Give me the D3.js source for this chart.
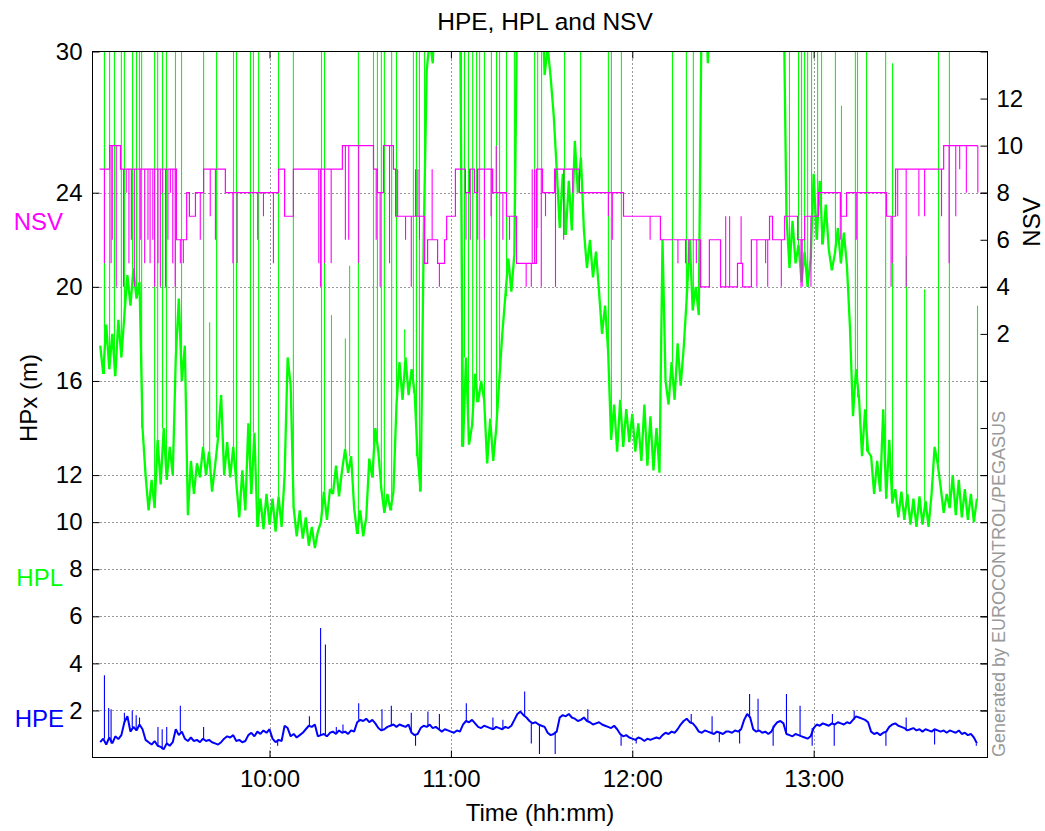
<!DOCTYPE html>
<html>
<head>
<meta charset="utf-8">
<script src="https://cdnjs.cloudflare.com/ajax/libs/d3/7.8.5/d3.min.js"></script>
<style>
  body { margin: 0; background: #fff; }
  svg text { font-family: "Liberation Sans", Arial, sans-serif; }
</style>
</head>
<body>
<svg id="chart" width="1045" height="831"></svg>
<script>
// time is in minutes after 09:00, one sample per minute starting at t0
var t0 = 4;

var hpl = [
  17.5,16.3,18.4,16.5,18.0,16.2,18.6,17.0,18.8,20.5,
  19.2,20.8,19.5,20.2,14.0,12.0,10.5,11.8,10.6,13.5,
  11.6,14.0,11.8,13.2,12.0,17.0,19.5,16.0,17.5,10.3,
  12.6,11.2,12.5,11.9,13.2,12.0,13.0,11.3,12.4,13.6,
  15.4,12.0,13.4,11.9,13.2,11.7,10.2,12.2,10.5,14.2,
  11.2,13.8,9.8,11.0,9.7,11.2,9.9,11.0,9.6,11.1,
  9.8,12.0,17.0,15.8,10.6,9.4,10.5,9.3,10.2,9.0,
  9.8,8.9,9.6,10.0,11.3,10.1,11.4,11.2,12.4,11.1,
  12.2,13.1,12.1,12.8,10.6,9.5,10.5,9.4,10.2,12.7,
  11.9,14.0,13.0,11.4,10.4,11.2,10.5,11.3,15.0,16.8,
  15.2,17.0,15.4,16.5,15.5,12.8,11.3,22.0,29.2,30.5,
  29.5,33,33,33,33,33,33,33,33,33,
  13.2,17.0,13.3,14.1,16.3,15.1,16.0,15.2,12.5,14.4,
  12.6,14.0,16.0,18.0,19.6,21.2,19.8,21.4,33,33,
  33,33,33,33,33,33,33,29.0,30.2,28.9,
  27.3,25.0,22.5,24.8,22.2,24.5,22.4,26.2,24.0,25.5,
  22.4,20.8,22.0,20.4,21.5,19.8,18.0,19.2,17.3,13.5,
  15.0,13.0,15.2,13.2,14.8,13.4,14.6,13.0,14.2,12.6,
  15.0,12.4,14.5,12.2,14.0,12.1,22.0,16.0,15.0,16.8,
  15.2,17.6,15.8,17.4,19.5,22.0,19.0,20.0,18.8,33,
  33,29.5,33,33,33,33,33,33,33,33,
  33,33,33,33,33,33,33,33,33,33,
  33,33,33,33,33,33,33,23.0,20.8,22.8,
  21.0,21.8,20.2,21.5,20.0,21.2,24.8,22.0,24.5,21.8,
  23.5,21.6,20.7,21.4,22.5,21.0,22.3,20.9,18.3,14.5,
  16.5,15.3,12.8,14.8,13.0,12.8,11.2,12.6,11.3,14.8,
  11.0,13.5,10.8,11.4,10.2,11.3,10.1,11.2,9.9,11.0,
  9.8,11.1,9.9,10.9,9.8,11.2,13.2,12.5,11.5,10.4,
  11.2,10.6,12.0,10.3,11.8,10.2,11.4,10.1,11.2,10.0,
  11.0
];

var hpe = [
  0.65,0.8,0.55,0.85,0.6,0.9,0.78,0.95,1.5,1.75,
  1.1,1.3,1.15,1.4,1.2,0.75,0.65,0.55,0.7,0.5,
  0.45,0.35,0.6,0.5,0.65,1.2,0.95,1.1,0.8,0.7,
  0.85,0.7,0.75,0.65,0.8,0.7,0.75,0.65,0.6,0.55,
  0.65,0.8,0.9,0.85,0.95,0.7,0.75,0.65,0.7,0.95,
  1.05,0.9,1.1,1.0,1.15,1.05,1.2,0.8,0.65,0.75,
  0.7,1.35,1.25,0.9,1.0,0.85,0.95,1.05,1.2,1.35,
  1.3,1.4,0.9,0.95,1.0,0.9,1.05,1.1,1.0,1.15,
  1.05,1.1,1.0,1.15,1.1,1.5,1.6,1.55,1.65,1.5,
  1.6,1.45,1.25,1.15,1.2,1.3,1.35,1.4,1.3,1.4,
  1.35,1.3,1.4,1.05,0.95,1.0,1.25,1.35,1.3,1.4,
  1.25,1.3,1.2,1.1,1.2,1.15,1.1,1.05,1.15,1.1,
  1.4,1.55,1.5,1.6,1.45,1.3,1.25,1.35,1.3,1.25,
  1.2,1.3,1.25,1.2,1.3,1.25,1.35,1.6,1.85,1.95,
  1.8,1.7,1.55,1.45,1.5,1.4,1.35,1.3,1.05,0.95,
  1.0,1.1,1.7,1.8,1.75,1.85,1.7,1.65,1.55,1.6,
  1.7,1.55,1.5,1.4,1.45,1.5,1.4,1.35,1.3,1.25,
  1.35,1.2,1.0,0.9,0.95,0.85,0.8,0.75,0.85,0.8,
  0.7,0.8,0.75,0.8,0.85,0.8,0.95,1.05,1.0,1.1,
  1.05,1.2,1.4,1.55,1.65,1.5,1.45,1.3,1.1,1.05,
  1.15,1.1,1.05,1.0,1.1,1.05,1.0,1.1,1.1,1.05,
  1.15,1.1,1.2,1.6,1.85,1.7,1.2,1.1,1.15,1.05,
  1.1,1.0,1.1,1.35,1.5,1.55,1.45,1.0,0.95,0.9,
  1.0,0.95,0.9,0.85,0.8,0.9,1.25,1.4,1.35,1.45,
  1.4,1.35,1.45,1.4,1.5,1.45,1.4,1.5,1.45,1.6,
  1.75,1.7,1.65,1.6,1.5,1.1,1.0,1.05,0.95,1.05,
  1.1,1.3,1.4,1.45,1.35,1.3,1.25,1.15,1.2,1.25,
  1.15,1.2,1.1,1.2,1.15,1.1,1.2,1.15,1.1,1.15,
  1.05,1.15,1.1,1.05,1.15,1.0,1.05,0.95,1.0,0.85,
  0.6
];

// short HPL excursions (35 = off the top of the axis)
var hplSpikeT = [5.4,7.1,8.7,11.0,12.0,14.7,16.0,17.0,17.7,22.0,23.0,24.6,25.9,28.9,30.9,38.2,40.2,42.5,48.1,49.1,
  53.7,54.7,56.4,63.0,67.9,77.2,78.2,80.5,85.1,86.5,89.4,94.4,95.7,97.0,98.0,100.4,102.0,104.7,107.6,108.6,
  109.6,111.3,123.5,124.5,125.8,127.2,128.5,129.5,131.1,133.4,135.1,136.1,138.4,141.0,147.7,148.7,150.0,157.6,162.9,172.1,
  173.1,176.4,193.3,197.9,200.2,232.0,235.0,236.0,237.0,238.0,239.3,241.3,242.6,247.2,249.2,253.8,254.5,257.5,263.8,266.1,
  270.7,276.7,281.3,284.9,294.2];
var hplSpikeV = [35,35,35,35,35,35,35,35,35,35,35,35,35,35,35,35,18.5,35,35,35,
  35,35,35,35,35,35,35,18.8,17.8,20.9,35,35,35,35,35,35,35,18.2,35,35,
  35,35,35,35,35,35,35,35,35,35,35,35,35,35,21.0,22.5,25.0,35,35,35,
  35,35,35,35,35,35,35,35,35,35,35,35,35,35,27.7,35,35,35,35,29.5,
  21.3,19.9,35,35,19.2];

var hpeSpikeT = [5.4,6.8,7.6,12.0,14.6,15.9,17.0,23.1,24.5,26.0,30.5,38.2,62.7,73.2,76.9,78.5,82.1,84.3,89.5,97.2,
  100.3,106.9,108.3,112.4,116.2,125.1,133.9,137.2,144.4,146.6,149.3,154.5,165.3,176.3,181.3,199.5,206.4,208.8,215.5,218.8,
  221.6,226.6,231.0,235.5,239.5,246.2,246.8,253.4,263.9,270.6,280.0,293.8];
var hpeSpikeV = [3.5,2.1,2.05,1.9,2.0,1.8,1.7,1.3,1.2,1.3,2.2,1.3,0.5,1.75,5.5,4.8,1.3,1.4,2.3,2.05,
  2.2,1.9,0.5,1.95,1.85,2.3,1.7,1.6,2.8,0.6,0.15,0.15,2.05,0.5,0.6,1.85,1.75,0.65,0.6,2.7,
  2.5,0.5,2.7,2.2,0.5,1.85,0.5,2.0,0.5,1.7,0.55,0.5];

// NSV steps
var nsvTimes = [3.8,7.1,10.7,29.2,32.6,33.5,35.5,38.2,45.4,63.0,65.0,67.9,84.1,94.4,95.7,97.7,101.0,101.7,111.3,112.3,
  115.6,117.9,118.6,121.5,124.8,126.2,127.8,128.8,133.8,138.4,141.7,148.3,150.3,154.3,162.5,177.1,189.3,202.6,205.5,209.2,
  214.8,216.5,219.4,225.4,226.4,230.4,234.7,237.0,241.6,248.9,250.9,264.1,267.1,283.0,294.3];
var nsvValues = [9,10,9,6,8,7,8,9,8,9,7,9,10,9,8,10,9,7,5,6,
  5,6,7,9,8,9,8,9,8,7,5,9,8,9,8,7,6,4,6,4,
  5,4,6,7,6,7,6,7,8,7,8,7,9,10,10];

// brief NSV drops / jumps
var nsvDropT = [5.4,7.6,8.0,9.3,11.7,12.6,13.5,14.3,15.3,17.4,18.7,19.8,20.5,21.4,22.0,23.1,23.9,24.7,25.6,26.4,
  27.2,28.0,28.8,30.5,31.5,37.1,40.4,42.1,47.9,49.3,56.1,58.0,61.3,76.3,76.9,78.2,80.4,85.1,86.2,89.5,
  95.3,96.6,99.7,102.4,105.0,106.9,108.3,109.1,109.6,113.8,116.2,125.0,126.4,128.9,131.1,133.3,135.0,137.2,139.4,144.9,
  146.6,146.9,147.7,149.9,151.3,154.6,157.3,160.3,172.1,173.4,185.9,195.1,197.6,198.7,201.2,210.9,212.2,216.0,218.8,221.2,
  224.1,224.8,229.3,235.8,236.2,239.1,248.8,254.1,265.6,266.0,267.8,270.6,274.8,276.7,282.3,284.8,287.0,288.3,290.5,294.3];
var nsvDropV = [5,5,6,4,4,8,5,6,4,6,5,6,5,6,4,5,4,8,4,6,
  8,5,4,5,5,6,7,6,5,5,6,7,5,5,4,5,5,6,6,5,
  6,4,5,9,6,4,9,9,6,9,4,6,6,6,6,7,10,6,6,4,
  4,9,9,4,7,4,6,8,7,6,6,5,5,5,5,7,7,7,4,4,
  5,4,4,4,4,4,6,6,4,5,7,4,7,7,7,5,7,9,8,8];

var hpxTicks = [2, 4, 6, 8, 10, 12, 16, 20, 24, 30];
var nsvTicks = [-14, -12, -10, -8, -6, -4, -2, 0, 2, 4, 6, 8, 10, 12];
var timeTicks = [60, 120, 180, 240];
var timeLabels = ["10:00", "11:00", "12:00", "13:00"];

var L = 92.5, R = 987.5, T = 51.5, B = 757.5;
var svg = d3.select("#chart");

var x = d3.scaleLinear().domain([1.45, 297.5]).range([L, R]);
var yL = d3.scaleLinear().domain([0, 30]).range([B, T]);
var yR = d3.scaleLinear().domain([-16, 14]).range([B, T]);

svg.append("defs").append("clipPath").attr("id", "plotclip")
  .append("rect").attr("x", L).attr("y", T).attr("width", R - L).attr("height", B - T);

// grid
var grid = svg.append("g");
grid.selectAll("line.h").data(hpxTicks.filter(function(d) { return d < 30; })).enter().append("line")
  .attr("x1", L).attr("x2", R)
  .attr("y1", function(d) { return Math.round(yL(d)) + 0.5; })
  .attr("y2", function(d) { return Math.round(yL(d)) + 0.5; });
grid.selectAll("line.v").data(timeTicks).enter().append("line")
  .attr("y1", T).attr("y2", B)
  .attr("x1", function(d) { return Math.round(x(d)) + 0.5; })
  .attr("x2", function(d) { return Math.round(x(d)) + 0.5; });
grid.selectAll("line").attr("stroke", "#333").attr("stroke-width", 1).attr("stroke-dasharray", "1,3");

var plot = svg.append("g").attr("clip-path", "url(#plotclip)");

function hplAt(t) {
  var i = Math.max(0, Math.min(hpl.length - 1, Math.round(t) - t0));
  return hpl[i];
}
function hpeAt(t) {
  var i = Math.max(0, Math.min(hpe.length - 1, Math.round(t) - t0));
  return hpe[i];
}
function nsvAt(t) {
  var i = Math.max(0, d3.bisectRight(nsvTimes, t) - 1);
  return nsvValues[i];
}

var lineL = d3.line().x(function(d, i) { return x(t0 + i); }).y(function(d) { return yL(d); });

// HPL
plot.append("path").datum(hpl).attr("d", lineL)
  .attr("fill", "none").attr("stroke", "#00ff00").attr("stroke-width", 2.3)
  .attr("stroke-linejoin", "bevel");
plot.selectAll("line.hpls").data(hplSpikeT).enter().append("line")
  .attr("x1", function(d) { return x(d); }).attr("x2", function(d) { return x(d); })
  .attr("y1", function(d) { return yL(hplAt(d)); })
  .attr("y2", function(d, i) { return yL(hplSpikeV[i]); })
  .attr("stroke", "#00ff00").attr("stroke-width", 1.1);

// HPE
plot.append("path").datum(hpe).attr("d", lineL)
  .attr("fill", "none").attr("stroke", "#0000ff").attr("stroke-width", 2)
  .attr("stroke-linejoin", "bevel");
plot.selectAll("line.hpes").data(hpeSpikeT).enter().append("line")
  .attr("x1", function(d) { return x(d); }).attr("x2", function(d) { return x(d); })
  .attr("y1", function(d) { return yL(hpeAt(d)); })
  .attr("y2", function(d, i) { return yL(hpeSpikeV[i]); })
  .attr("stroke", "#0000ff").attr("stroke-width", 1.1);

// NSV
var nsvLine = d3.line().curve(d3.curveStepAfter)
  .x(function(d) { return x(d[0]); }).y(function(d) { return yR(d[1]); });
plot.append("path").datum(d3.zip(nsvTimes, nsvValues)).attr("d", nsvLine)
  .attr("fill", "none").attr("stroke", "#ff00ff").attr("stroke-width", 1.2);
plot.selectAll("line.nsvd").data(nsvDropT).enter().append("line")
  .attr("x1", function(d) { return x(d); }).attr("x2", function(d) { return x(d); })
  .attr("y1", function(d) { return yR(nsvAt(d)); })
  .attr("y2", function(d, i) { return yR(nsvDropV[i]); })
  .attr("stroke", "#ff00ff").attr("stroke-width", 1.1);

// axes
function styleAxis(g, size) {
  g.select(".domain").remove();
  g.selectAll(".tick line").attr("stroke", "#000");
  g.selectAll("text").attr("font-family", "'Liberation Sans', Arial, sans-serif")
    .attr("font-size", size).attr("fill", "#000");
}

svg.append("g").attr("transform", "translate(" + L + ",0)")
  .call(d3.axisLeft(yL).tickValues(hpxTicks).tickSize(-7).tickPadding(10))
  .call(styleAxis, 24);
svg.append("g").attr("transform", "translate(" + R + ",0)")
  .call(d3.axisRight(yL).tickValues(hpxTicks).tickSize(-7).tickFormat(""))
  .call(styleAxis, 24);
svg.append("g").attr("transform", "translate(" + R + ",0)")
  .call(d3.axisRight(yR).tickValues(nsvTicks).tickSize(-7).tickPadding(9)
    .tickFormat(function(d) { return d >= 2 ? d : ""; }))
  .call(styleAxis, 24);
svg.append("g").attr("transform", "translate(0," + B + ")")
  .call(d3.axisBottom(x).tickValues(timeTicks).tickSize(-7).tickPadding(12)
    .tickFormat(function(d, i) { return timeLabels[i]; }))
  .call(styleAxis, 24);
svg.append("g").attr("transform", "translate(0," + T + ")")
  .call(d3.axisTop(x).tickValues(timeTicks).tickSize(-7).tickFormat(""))
  .call(styleAxis, 24);

svg.append("rect").attr("x", L).attr("y", T).attr("width", R - L).attr("height", B - T)
  .attr("fill", "none").attr("stroke", "#000").attr("stroke-width", 1);

// labels
svg.append("text").attr("x", 545).attr("y", 30).attr("text-anchor", "middle")
  .attr("font-size", 24.5).text("HPE, HPL and NSV");
svg.append("text").attr("x", 540).attr("y", 821).attr("text-anchor", "middle")
  .attr("font-size", 24).text("Time (hh:mm)");
svg.append("text").attr("transform", "translate(37,398) rotate(-90)").attr("text-anchor", "middle")
  .attr("font-size", 24).text("HPx  (m)");
svg.append("text").attr("transform", "translate(1040,222) rotate(-90)").attr("text-anchor", "middle")
  .attr("font-size", 24).text("NSV");
svg.append("text").attr("x", 63).attr("y", 230).attr("text-anchor", "end")
  .attr("font-size", 24).attr("fill", "#ff00ff").text("NSV");
svg.append("text").attr("x", 63).attr("y", 586).attr("text-anchor", "end")
  .attr("font-size", 24).attr("fill", "#00ff00").text("HPL");
svg.append("text").attr("x", 64).attr("y", 727).attr("text-anchor", "end")
  .attr("font-size", 24).attr("fill", "#0000ff").text("HPE");
svg.append("text").attr("transform", "translate(1005,757) rotate(-90)").attr("text-anchor", "start")
  .attr("font-size", 18).attr("fill", "#999").text("Generated by EUROCONTROL/PEGASUS");
</script>
</body>
</html>
